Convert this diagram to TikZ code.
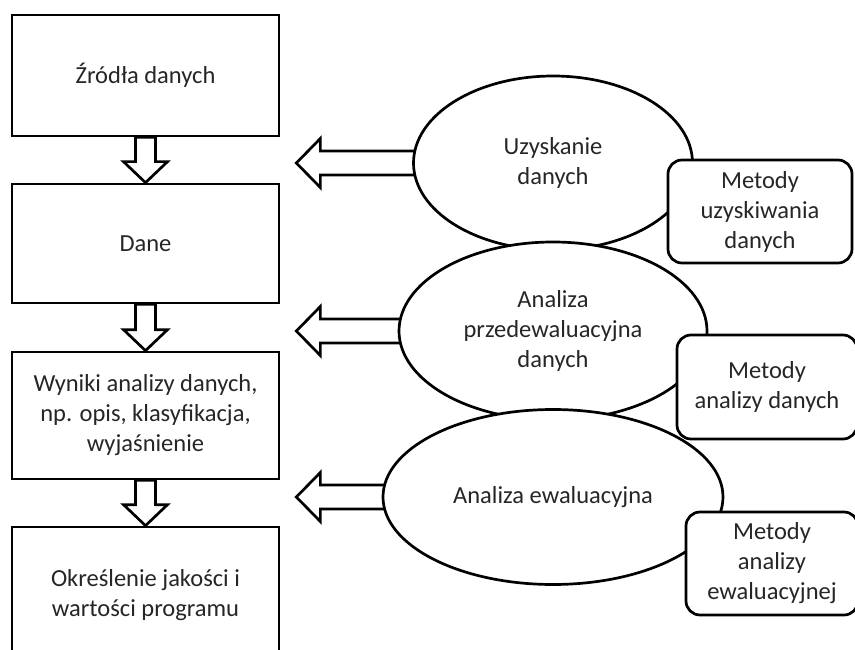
\documentclass[tikz,border=0pt]{standalone}
\usepackage{fontspec}
\setmainfont{Carlito}
\usetikzlibrary{shapes.geometric}

% block arrow pointing down, from the bottom of #1 to the top of #2
\newcommand{\downarr}[2]{%
  \draw[blk] ([xshift=-10pt]#1.south) -- ([xshift=-10pt,yshift=21pt]#2.north)
    -- ([xshift=-22pt,yshift=21pt]#2.north) -- (#2.north)
    -- ([xshift=22pt,yshift=21pt]#2.north) -- ([xshift=10pt,yshift=21pt]#2.north)
    -- ([xshift=10pt]#1.south) -- cycle;}
% block arrow pointing left, from #1 to the tip #2
\newcommand{\leftarr}[2]{%
  \draw[blk] ([yshift=12pt]#1) -- ([xshift=24pt,yshift=12pt]#2)
    -- ([xshift=24pt,yshift=24.5pt]#2) -- (#2)
    -- ([xshift=24pt,yshift=-24.5pt]#2) -- ([xshift=24pt,yshift=-12pt]#2)
    -- ([yshift=-12pt]#1) -- cycle;}

\begin{document}
\begin{tikzpicture}[
            x=1pt, y=-1pt,
            font=\fontsize{24.5}{30}\selectfont,
            text=black!85,
            stage/.style={draw,line width=2.7pt,fill=white,minimum width=267pt,align=center,inner sep=0pt},
            oval/.style={ellipse,draw,line width=2.7pt,fill=white,align=center,inner sep=0pt},
            method/.style={draw,line width=2.7pt,fill=white,rounded corners=14pt,align=center,inner sep=0pt},
            blk/.style={line width=2.7pt,fill=white,line join=miter},
            ]
            \useasboundingbox (0,0) rectangle (855,650);
            \clip (0,0) rectangle (855,650);

            % left column
            \node[stage, minimum height=121pt] (b1) at (145.5,75.5) {Źródła danych};
            \node[stage, minimum height=119pt] (b2) at (145.5,243.5) {Dane};
            \node[stage, minimum height=127pt] (b3) at (145.5,415.5) {Wyniki analizy danych,\\np. opis, klasyfikacja,\\wyjaśnienie};
            \node[stage, minimum height=136pt] (b4) at (145.5,595) {Określenie jakości i\\wartości programu};

            \downarr{b1}{b2}
            \downarr{b2}{b3}
            \downarr{b3}{b4}

            % right column
            \coordinate (c1) at (553,163);
            \coordinate (c2) at (553,331);
            \coordinate (c3) at (553,497);
            \coordinate (t1) at ([xshift=16pt]b1.east |- c1);
            \coordinate (t2) at ([xshift=16pt]b2.east |- c2);
            \coordinate (t3) at ([xshift=16pt]b3.east |- c3);

            \leftarr{c1}{t1}
            \leftarr{c2}{t2}
            \leftarr{c3}{t3}

            \node[oval, minimum width=279pt, minimum height=174pt] (e1) at (c1) {Uzyskanie\\danych};
            \node[method, minimum width=184pt, minimum height=103pt] (m1) at (760,211.5) {Metody\\uzyskiwania\\danych};
            \node[oval, minimum width=308pt, minimum height=178pt] (e2) at (c2) {Analiza\\przedewaluacyjna\\danych};
            \node[oval, minimum width=340pt, minimum height=175pt] (e3) at (c3) {Analiza ewaluacyjna};
            \node[method, minimum width=180pt, minimum height=104pt] (m2) at (767,387) {Metody\\analizy danych};
            \node[method, minimum width=172pt, minimum height=103pt] (m3) at (772,563.5) {Metody\\analizy\\ewaluacyjnej};
        \end{tikzpicture}
\end{document}
